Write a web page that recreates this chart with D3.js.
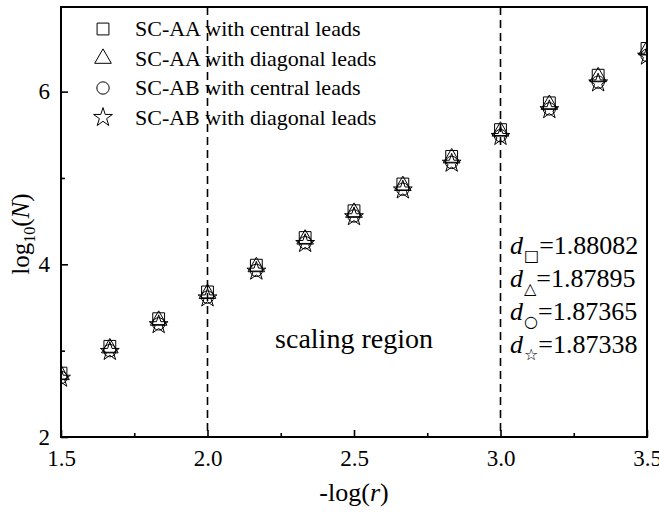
<!DOCTYPE html>
<html>
<head>
<meta charset="utf-8">
<script src="https://cdn.jsdelivr.net/npm/d3@7"></script>
<style>
  html, body { margin: 0; padding: 0; background: #fff; }
  svg { display: block; font-family: "Liberation Serif", "Times New Roman", serif; }
</style>
</head>
<body>
<svg id="chart" width="659" height="512"></svg>
<script>
// -log(r) values for the box-counting scales
const logR = [1.5, 1.6667, 1.8333, 2.0, 2.1667, 2.3333, 2.5, 2.6667, 2.8333, 3.0, 3.1667, 3.3333, 3.5];

// log10(N) for each configuration
const aaCentral  = [2.74, 3.05, 3.37, 3.68, 3.99, 4.31, 4.62, 4.93, 5.25, 5.56, 5.87, 6.19, 6.50];
const aaDiagonal = [2.72, 3.03, 3.35, 3.66, 3.97, 4.29, 4.60, 4.91, 5.23, 5.54, 5.85, 6.17, 6.48];
const abCentral  = [2.69, 3.00, 3.31, 3.62, 3.93, 4.25, 4.56, 4.87, 5.18, 5.49, 5.80, 6.11, 6.42];
const abDiagonal = [2.68, 2.99, 3.30, 3.61, 3.92, 4.24, 4.55, 4.86, 5.17, 5.48, 5.79, 6.10, 6.41];

const seriesNames = ["SC-AA with central leads", "SC-AA with diagonal leads",
                     "SC-AB with central leads", "SC-AB with diagonal leads"];
const seriesDims = ["1.88082", "1.87895", "1.87365", "1.87338"];
const dimGlyphs = ["\u25A1", "\u25B3", "\u25CB", "\u2606"];

const xTicks = [1.5, 2.0, 2.5, 3.0, 3.5];
const xMinorTicks = [1.75, 2.25, 2.75, 3.25];
const yTicks = [2, 4, 6];
const yMinorTicks = [3, 5];
const regionBounds = [2.0, 3.0];

const svg = d3.select("#chart");
const W = 659, H = 512;
const m = { left: 61, top: 7, right: 12, bottom: 75 };
const pw = W - m.left - m.right, ph = H - m.top - m.bottom;

const x = d3.scaleLinear().domain([1.5, 3.5]).range([0, pw]);
const y = d3.scaleLinear().domain([2, 6.98]).range([ph, 0]);

const g = svg.append("g").attr("transform", `translate(${m.left},${m.top})`);

svg.append("defs").append("clipPath").attr("id", "plotClip")
  .append("rect").attr("width", pw).attr("height", ph);

// dashed boundaries of the scaling region
g.selectAll("line.region").data(regionBounds).join("line")
  .attr("class", "region")
  .attr("x1", d => x(d)).attr("x2", d => x(d))
  .attr("y1", 0).attr("y2", ph)
  .attr("stroke", "#000").attr("stroke-width", 1.6)
  .attr("stroke-dasharray", "8,5");

// markers
const symbols = [
  d3.symbol().type(d3.symbolSquare).size(140),
  d3.symbol().type(d3.symbolTriangle).size(120),
  d3.symbol().type(d3.symbolCircle).size(120),
  d3.symbol().type(d3.symbolStar).size(110)
];
const allSeries = [aaCentral, aaDiagonal, abCentral, abDiagonal];

const marks = g.append("g").attr("clip-path", "url(#plotClip)");
allSeries.forEach((vals, i) => {
  marks.append("g").selectAll("path").data(vals).join("path")
    .attr("d", symbols[i]())
    .attr("transform", (d, j) => `translate(${x(logR[j])},${y(d)})`)
    .attr("fill", "none").attr("stroke", "#000").attr("stroke-width", 1);
});

// axes (ticks pointing inward)
const xAxis = g.append("g").attr("transform", `translate(0,${ph})`)
  .call(d3.axisBottom(x).tickValues(xTicks).tickSizeInner(-7).tickSizeOuter(0)
    .tickFormat(d3.format(".1f")).tickPadding(13));
const xMinor = g.append("g").attr("transform", `translate(0,${ph})`)
  .call(d3.axisBottom(x).tickValues(xMinorTicks).tickSizeInner(-4).tickSizeOuter(0).tickFormat(""));
const yAxis = g.append("g")
  .call(d3.axisLeft(y).tickValues(yTicks).tickSizeInner(-7).tickSizeOuter(0)
    .tickFormat(d3.format("d")).tickPadding(11));
const yMinor = g.append("g")
  .call(d3.axisLeft(y).tickValues(yMinorTicks).tickSizeInner(-4).tickSizeOuter(0).tickFormat(""));

[xAxis, xMinor, yAxis, yMinor].forEach(a => {
  a.select(".domain").remove();
  a.selectAll("line").attr("stroke", "#000").attr("stroke-width", 1.6);
  a.selectAll("text").attr("fill", "#000")
    .style("font-family", "'Liberation Serif', serif").style("font-size", "23px");
});

// frame
g.append("rect").attr("width", pw).attr("height", ph)
  .attr("fill", "none").attr("stroke", "#000").attr("stroke-width", 2);

// legend
const legend = g.append("g").attr("transform", "translate(42,22)");
seriesNames.forEach((name, i) => {
  const row = legend.append("g").attr("transform", `translate(0,${i * 29.5})`);
  row.append("path").attr("d", symbols[i]())
    .attr("fill", "none").attr("stroke", "#000").attr("stroke-width", 1);
  row.append("text").attr("x", 32).attr("y", 7)
    .style("font-size", "22px").text(name);
});

// scaling region label
g.append("text").attr("x", x(2.5)).attr("y", 341)
  .attr("text-anchor", "middle").style("font-size", "28px").text("scaling region");

// fractal dimensions
seriesDims.forEach((v, i) => {
  const t = g.append("text").attr("x", 449).attr("y", 247 + i * 33)
    .style("font-size", "26px");
  t.append("tspan").style("font-style", "italic").text("d");
  t.append("tspan").attr("dy", 7).attr("dx", 1)
    .style("font-family", "'DejaVu Sans', sans-serif").style("font-size", "16px")
    .text(dimGlyphs[i]);
  t.append("tspan").attr("dy", -7).text("=" + v);
});

// axis titles
const xt = svg.append("text").attr("x", m.left + pw / 2).attr("y", 501)
  .attr("text-anchor", "middle").style("font-size", "26px");
xt.append("tspan").text("-log(");
xt.append("tspan").style("font-style", "italic").text("r");
xt.append("tspan").text(")");

const yt = svg.append("text")
  .attr("transform", `translate(29,${m.top + ph / 2 + 12}) rotate(-90)`)
  .attr("text-anchor", "middle").style("font-size", "25px");
yt.append("tspan").text("log");
yt.append("tspan").attr("dy", 6).style("font-size", "16px").text("10");
yt.append("tspan").attr("dy", -6).text("(");
yt.append("tspan").style("font-style", "italic").text("N");
yt.append("tspan").text(")");
</script>
</body>
</html>
